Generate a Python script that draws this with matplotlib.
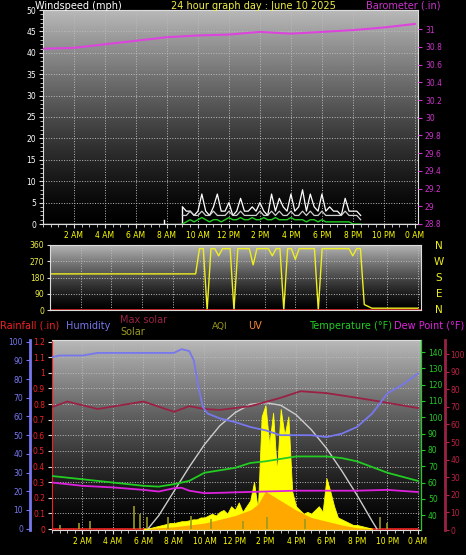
import numpy as np
import matplotlib.pyplot as plt

# ---- data ----
hour_ticks = [2, 4, 6, 8, 10, 12, 14, 16, 18, 20, 22, 24]
hour_labels = ["2 AM", "4 AM", "6 AM", "8 AM", "10 AM", "12 PM", "2 PM", "4 PM",
               "6 PM", "8 PM", "10 PM", "0 AM"]

baro_hours = [0, 2, 4, 6, 8, 10, 12, 14, 15, 16, 18, 20, 22, 24]
baro_vals = [30.78, 30.79, 30.83, 30.87, 30.91, 30.93, 30.94, 30.97, 30.96, 30.95,
             30.97, 30.99, 31.02, 31.06]

gust_start = 9.0
gust_vals = [4, 3, 3, 2, 3, 7, 3, 2, 4, 7, 3, 3, 5, 2, 3, 6, 3, 3, 4, 3, 5, 3, 2, 7,
             3, 6, 4, 3, 7, 3, 4, 8, 3, 7, 4, 3, 7, 3, 4, 3, 3, 2, 6, 3, 3, 3, 2]
wind_vals = [2, 2, 3, 2, 2, 3, 2, 2, 3, 2, 2, 2, 3, 2, 2, 3, 2, 2, 2, 2, 3, 2, 2, 3,
             2, 3, 2, 2, 3, 2, 2, 3, 2, 3, 2, 2, 3, 2, 2, 2, 2, 2, 3, 2, 2, 2, 1]
avg_vals = [0, 0.5, 1, 0.5, 1, 1.5, 1, 0.5, 1, 1, 0.5, 1, 1.5, 1, 1, 1.5, 1, 1, 1.5, 1,
            1, 1.5, 1, 1, 1.5, 1, 1, 1, 1.5, 1, 1, 1, 0.5, 1, 1, 0.5, 1, 0.5, 0.5, 0.5,
            0.5, 0.5, 0.5, 0.5, 0, 0, 0]

dir_start = 9.5
dir_vals = [200, 340, 340, 0, 340, 340, 300, 340, 340, 340, 0, 340, 340, 340, 340,
            250, 340, 340, 340, 340, 300, 340, 340, 0, 340, 340, 280, 340, 340, 340,
            340, 340, 0, 340, 340, 340, 340, 340, 340, 340, 340, 300, 340, 340, 30]

hum_hours = [0, 0.5, 2, 3, 8, 8.5, 9, 9.3, 9.6, 9.9, 10.2, 11, 12, 13, 14, 15, 16, 17,
             18, 19, 20, 21, 22, 23, 24]
hum_vals = [91.7, 92.6, 92.6, 94, 94, 96, 95, 90, 76, 65, 61.6, 59, 57, 54.4, 52.6,
            50, 50, 50, 49, 50.8, 54.4, 61.6, 72.4, 77, 83]

maxsol_hours = [0, 1, 3, 6, 8, 9, 10, 11, 13, 15, 16.3, 18, 20, 21.5, 24]
maxsol_vals = [65, 68, 64, 68, 62.5, 65.5, 64, 63.5, 65.5, 70, 73.5, 72.5, 70, 68, 64.5]

sun_hours = [6.3, 7, 8, 9, 10, 11, 12, 13, 14, 15, 16, 17, 18, 19, 20, 21, 21.3]
sun_vals = [0, 7, 20, 33, 45, 55, 62, 66.5, 67.4, 66, 61, 53, 43, 31, 18, 4, 0]

solar_start = 6.0
solar_vals = [0, 0, 0.5, 1, 1.5, 2, 2.5, 3, 3, 3.5, 4, 4, 4.5, 5, 5, 6, 6, 7, 8, 7,
              9, 10, 8, 12, 10, 14, 9, 12, 15, 25, 10, 60, 66, 45, 62, 30, 64, 50, 60,
              20, 12, 10, 8, 9, 8, 10, 12, 9, 27, 20, 12, 6, 5, 4, 3, 2, 2, 1.5, 1,
              0.5, 0]

uv_hours = [6, 8, 10, 12, 13, 13.5, 14, 15, 16, 17, 18, 19, 20, 21]
uv_vals = [0, 1, 3, 7, 10, 13, 20, 15, 10, 6, 4, 2, 0.5, 0]

aqi_hours = [0.5, 1.8, 2.5, 5.4, 5.8, 6.2, 7.6, 9.1, 10.4, 12.5, 14.1, 16.6, 21.5, 22.0]
aqi_vals = [2, 3, 4, 12, 8, 6, 6, 7, 5, 4, 6, 5, 6, 3]

temp_hours = [0, 2, 4, 6, 7, 8, 9, 10, 12, 13, 14, 16, 18, 19, 20, 22, 24]
temp_vals = [64, 62, 60, 58, 57.5, 59, 61, 66, 69, 72, 73, 76, 76, 75, 73, 66, 61]

dew_hours = [0, 2, 4, 6, 7, 8, 8.5, 9, 10, 11, 12, 14, 16, 18, 20, 22, 24]
dew_vals = [60, 58, 57, 55.5, 54.5, 56.5, 56.8, 55, 53.5, 53.7, 54, 54.5, 55, 55, 55,
            55.5, 54.2]

W, H = 466, 555
BG = "black"
GRID = dict(color="#bbbbbb", linestyle=":", linewidth=0.7)
FS = 5.5
TFS = 7


def panel(rect):
    ax = fig.add_axes([rect[0] / W, 1 - rect[3] / H, (rect[2] - rect[0]) / W,
                       (rect[3] - rect[1]) / H])
    ax.set_facecolor(BG)
    grad = np.linspace(0.78, 0.0, 256).reshape(-1, 1) ** 1.3
    ax.imshow(grad, cmap="gray", vmin=0, vmax=1, aspect="auto",
              extent=[0, 1, 0, 1], transform=ax.transAxes, zorder=0)
    for s in ax.spines.values():
        s.set_color("#dddddd")
    ax.set_xlim(0, 24.2)
    ax.set_xticks(hour_ticks)
    ax.set_xticks(np.arange(0, 24.5, 0.5), minor=True)
    ax.grid(True, **GRID)
    ax.tick_params(colors="#dddddd", labelsize=FS, length=3, pad=2)
    ax.tick_params(which="minor", colors="#dddddd", length=2)
    return ax


fig = plt.figure(figsize=(W / 100, H / 100), dpi=100, facecolor=BG)

# ---- top: wind & barometer ----
ax1 = panel((43, 10, 418, 224))
ax1.set_ylim(0, 50)
ax1.set_yticks(range(0, 51, 5))
ax1.set_yticks(np.arange(0, 50.5, 1), minor=True)
ax1.set_xticklabels(hour_labels, color="yellow")
ax1.tick_params(axis="y", labelcolor="white")
gx = gust_start + 0.25 * np.arange(len(gust_vals))
ax1.plot([0, gust_start, gust_start], [0, 0, gust_vals[0]], color="white", lw=1)
ax1.plot([7.8, 7.8], [0, 1], color="white", lw=1)
ax1.plot(gx, gust_vals, color="white", lw=0.9)
ax1.plot(gx, wind_vals, color="#d0d0d0", lw=0.9)
ax1.plot([gx[-1], 24], [0, 0], color="white", lw=1)
ax1.plot(gx, avg_vals, color="#22cc22", lw=1)
ax1.axhline(-0.4, color="#88dd88", lw=1.5)
axb = ax1.twinx()
axb.set_ylim(28.8, 28.8 + 0.04835 * 50)
btk = np.round(np.arange(28.8, 31.01, 0.2), 1)
axb.set_yticks(btk)
axb.set_yticklabels([f"{v:g}" for v in btk])
axb.tick_params(colors="#cc33cc", labelsize=FS, length=3, pad=2)
axb.plot(baro_hours, baro_vals, color="#dd44dd", lw=1.5)
for s in axb.spines.values():
    s.set_visible(False)

fig.text(35 / W, 1 - 6 / H, "Windspeed (mph)", color="white", fontsize=TFS, va="center")
fig.text(253 / W, 1 - 6 / H, "24 hour graph day : June 10 2025", color="#eeee44",
         fontsize=TFS, va="center", ha="center")
fig.text(440 / W, 1 - 6 / H, "Barometer (.in)", color="#cc33cc", fontsize=TFS,
         va="center", ha="right")

# ---- middle: wind direction ----
ax2 = panel((50, 245, 421, 310))
ax2.set_ylim(0, 360)
ax2.set_yticks([0, 90, 180, 270, 360])
ax2.set_xticklabels([])
ax2.tick_params(axis="y", labelcolor="#eeee44", length=2)
ax2.tick_params(axis="x", length=0, which="both")
dx = dir_start + 0.25 * np.arange(len(dir_vals))
ax2.plot([0] + list(dx) + [21, 24], [200] + dir_vals + [10, 10], color="#eeee22", lw=1)
ax2.axhline(2, color="#dd2222", lw=1.2)
for i, d in enumerate(["N", "W", "S", "E", "N"]):
    fig.text(439 / W, 1 - (246 + i * 16) / H, d, color="#eeee22", fontsize=7.5,
             ha="center", va="center")

# ---- bottom: rain, humidity, solar, temperature ----
ax3 = panel((52, 340, 421, 530))
ax3.set_ylim(-0.006, 1.21)
rtk = np.round(np.arange(0, 1.21, 0.1), 1)
ax3.set_yticks(rtk)
ax3.set_yticklabels(["0"] + [f"{v:g}" for v in rtk[1:]])
ax3.set_xticklabels(hour_labels, color="yellow")
ax3.tick_params(axis="y", labelcolor="#ee2222")
ax3.spines["left"].set_color("#ee2222")
ax3.plot([0, 24], [0, 0], color="#ee2222", lw=1.2, zorder=3)

axh = ax3.twinx()
axh.set_ylim(-0.7, 100.9)
axh.yaxis.set_ticks_position("left")
axh.spines["left"].set_position(("axes", -22 / 369))
axh.spines["left"].set_color("#7777ee")
axh.spines["left"].set_linewidth(2)
for s in ["right", "top", "bottom"]:
    axh.spines[s].set_visible(False)
axh.set_yticks(range(0, 101, 10))
axh.tick_params(colors="#7777ee", labelsize=FS, length=3, pad=2)
sx = solar_start + 0.25 * np.arange(len(solar_vals))
axh.fill_between(sx, 0, solar_vals, color="#ffff00", lw=0.6, zorder=2)
axh.fill_between(uv_hours, 0, uv_vals, color="#ff9900", alpha=0.85, lw=0, zorder=2)
axh.vlines(aqi_hours, 0, aqi_vals, color="#999922", lw=1.2, zorder=3)
axh.plot(sun_hours, sun_vals, color="#cccccc", lw=1, zorder=3)
axh.plot(maxsol_hours, maxsol_vals, color="#992244", lw=1.3, zorder=3)
axh.plot(hum_hours, hum_vals, color="#7777ee", lw=1.3, zorder=4)

axt = ax3.twinx()
axt.set_ylim(30.9, 147.4)
axt.set_yticks(range(40, 141, 10))
axt.tick_params(colors="#22cc22", labelsize=FS, length=3, pad=2)
axt.spines["right"].set_color("#22cc22")
for s in ["left", "top", "bottom"]:
    axt.spines[s].set_visible(False)
axt.plot(temp_hours, temp_vals, color="#22cc22", lw=1.3, zorder=4)
axt.plot(dew_hours, dew_vals, color="#dd22dd", lw=1.3, zorder=4)

axd = ax3.twinx()
axd.set_ylim(0, 108)
axd.spines["right"].set_position(("axes", 1 + 24 / 369))
axd.spines["right"].set_color("#992244")
axd.spines["right"].set_linewidth(2)
for s in ["left", "top", "bottom"]:
    axd.spines[s].set_visible(False)
axd.set_yticks([0, 10, 20, 30, 40, 50, 60, 70, 80, 90, 100])
axd.tick_params(colors="#bb2244", labelsize=FS, length=3, pad=1)

fig.text(0, 1 - 326 / H, "Rainfall (.in)", color="#ee2222", fontsize=TFS, va="center")
fig.text(66 / W, 1 - 326 / H, "Humidity", color="#7777ee", fontsize=TFS, va="center")
fig.text(120 / W, 1 - 320 / H, "Max solar", color="#992244", fontsize=TFS, va="center")
fig.text(120 / W, 1 - 332 / H, "Solar", color="#999922", fontsize=TFS, va="center")
fig.text(212 / W, 1 - 326 / H, "AQI", color="#999922", fontsize=6.5, va="center")
fig.text(248 / W, 1 - 326 / H, "UV", color="#ff8833", fontsize=TFS, va="center")
fig.text(392 / W, 1 - 326 / H, "Temperature (°F)", color="#22cc22", fontsize=TFS,
         va="center", ha="right")
fig.text(464 / W, 1 - 326 / H, "Dew Point (°F)", color="#dd22dd", fontsize=TFS,
         va="center", ha="right")

fig.savefig("out.png", dpi=100, facecolor=BG)
